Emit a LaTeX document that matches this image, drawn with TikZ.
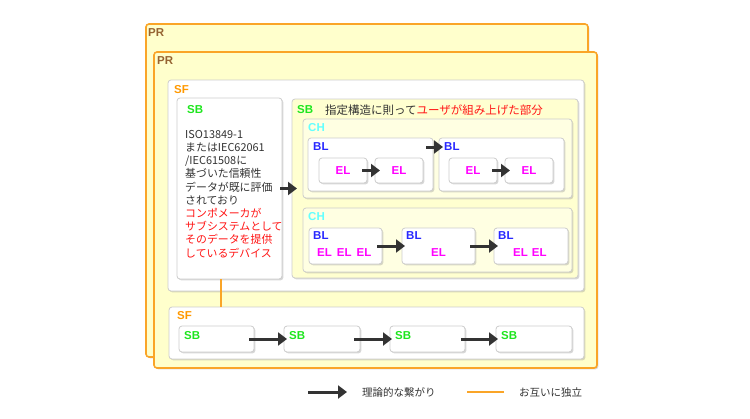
\documentclass[tikz,border=0pt]{standalone}
\usepackage{fontspec}
\setmainfont{Liberation Sans}
\newfontfamily\jp{Noto Sans CJK JP}
\usetikzlibrary{positioning,shadows,arrows.meta}

\definecolor{prorange}{RGB}{250,165,40}
\definecolor{pryellow}{RGB}{255,255,204}
\definecolor{sbyellow}{RGB}{255,255,208}
\definecolor{chyellow}{RGB}{255,255,226}
\definecolor{boxgray}{RGB}{204,204,204}
\definecolor{textgray}{RGB}{51,51,51}
\definecolor{prbrown}{RGB}{150,100,50}
\definecolor{sforange}{RGB}{255,153,0}
\definecolor{sbgreen}{RGB}{30,230,30}
\definecolor{chcyan}{RGB}{100,255,255}
\definecolor{blblue}{RGB}{40,40,255}
\definecolor{elmagenta}{RGB}{255,0,255}
\definecolor{jpred}{RGB}{255,20,20}

\tikzset{
  box/.style={draw=boxgray, line width=0.8pt, rounded corners=3pt, fill=white,
    anchor=north west, inner sep=0pt, outer sep=0pt,
    drop shadow={shadow xshift=1.4pt, shadow yshift=-1.4pt, opacity=0.3}},
  prbox/.style={box, draw=prorange, line width=1.6pt, fill=pryellow},
  ybox/.style={box, fill=sbyellow},
  chbox/.style={box, fill=chyellow},
  tag/.style={anchor=west, inner sep=0pt, font=\fontsize{11.5}{11.5}\selectfont\bfseries},
  prtag/.style={tag, text=prbrown},
  sftag/.style={tag, text=sforange},
  sbtag/.style={tag, text=sbgreen},
  chtag/.style={tag, text=chcyan},
  bltag/.style={tag, text=blblue},
  eltag/.style={tag, text=elmagenta},
  elbox/.style={box, text=elmagenta, font=\fontsize{11.5}{11.5}\selectfont\bfseries,
    minimum width=48pt, minimum height=25pt},
  jptext/.style={inner sep=0pt, text=textgray, font=\jp\fontsize{11}{11}\selectfont},
  flow/.style={draw=textgray, line width=3pt, -{Triangle[length=9pt,width=13pt]}},
  indep/.style={draw=prorange, line width=2pt},
}

\begin{document}
\begin{tikzpicture}[x=1pt,y=-1pt]
\useasboundingbox[fill=white] (0,0) rectangle (750,418);

% product frames
\node [prbox, minimum width=442pt, minimum height=333pt] (pr1) at (146,24) {};
\node [prtag] (pr1t) at ([shift={(2pt,-9pt)}]pr1.north west) {PR};
\node [prbox, minimum width=443pt, minimum height=316pt] (pr2) at (154,52) {};
\node [prtag] (pr2t) at ([shift={(3pt,-9pt)}]pr2.north west) {PR};

% upper subsystem frame
\node [box, minimum width=416pt, minimum height=211pt] (sf1) at (168,80) {};
\node [sftag] (sf1t) at ([shift={(6pt,-10pt)}]sf1.north west) {SF};

\node [box, minimum width=105pt, minimum height=181pt] (sbl) at (177,98) {};
\node [sbtag] (sblt) at ([shift={(10pt,-12pt)}]sbl.north west) {SB};
\node [jptext, anchor=north west, align=left, font=\jp\fontsize{10.9}{13.2}\selectfont] (sbltext) at (185,130)
  {ISO13849-1\\またはIEC62061\\/IEC61508に\\基づいた信頼性\\データが既に評価\\されており\\
   \textcolor{jpred}{コンポメーカが}\\\textcolor{jpred}{サブシステムとして}\\
   \textcolor{jpred}{そのデータを提供}\\\textcolor{jpred}{しているデバイス}};

\node [ybox, minimum width=286pt, minimum height=179pt] (sbr) at (292,99) {};
\node [sbtag] (sbrt) at ([shift={(5pt,-11pt)}]sbr.north west) {SB};
\node [jptext, anchor=west, font=\jp\fontsize{11.5}{11.5}\selectfont] (sbrcap) at (325,110) {指定構造に則って\textcolor{jpred}{ユーザが組み上げた部分}};

% first channel
\node [chbox, minimum width=269pt, minimum height=79pt] (ch1) at (303,119) {};
\node [chtag] (ch1t) at ([shift={(5pt,-9pt)}]ch1.north west) {CH};
\node [box, minimum width=125pt, minimum height=53pt] (bl1) at (308,138) {};
\node [bltag] (bl1t) at ([shift={(5pt,-9pt)}]bl1.north west) {BL};
\node [elbox] (el1) at (319,158) {EL};
\node [elbox] (el2) at (375,158) {EL};
\node [box, minimum width=125pt, minimum height=53pt] (bl2) at (439,138) {};
\node [bltag] (bl2t) at ([shift={(5pt,-9pt)}]bl2.north west) {BL};
\node [elbox] (el3) at (449,158) {EL};
\node [elbox] (el4) at (505,158) {EL};

\draw [flow] ([xshift=-5pt]el1.east) -- ([xshift=5pt]el2.west);
\draw [flow] ([xshift=-5pt]el3.east) -- ([xshift=5pt]el4.west);
\draw [flow] ([shift={(-7pt,-9pt)}]bl1.north east) -- ([shift={(4pt,-9pt)}]bl2.north west);

% second channel
\node [chbox, minimum width=269pt, minimum height=64pt] (ch2) at (303,208) {};
\node [chtag] (ch2t) at ([shift={(5pt,-9pt)}]ch2.north west) {CH};
\node [box, minimum width=73pt, minimum height=36pt] (bl3) at (309,228) {};
\node [bltag] (bl3t) at ([shift={(4pt,-8pt)}]bl3.north west) {BL};
\node [eltag] (bl3e) at ([shift={(8pt,-25pt)}]bl3.north west) {EL\hspace{5pt}EL\hspace{5pt}EL};
\node [box, minimum width=73pt, minimum height=36pt] (bl4) at (402,228) {};
\node [bltag] (bl4t) at ([shift={(4pt,-8pt)}]bl4.north west) {BL};
\node [eltag, anchor=center] (bl4e) at ([yshift=-25pt]bl4.north) {EL};
\node [box, minimum width=74pt, minimum height=36pt] (bl5) at (494,228) {};
\node [bltag] (bl5t) at ([shift={(4pt,-8pt)}]bl5.north west) {BL};
\node [eltag] (bl5e) at ([shift={(19pt,-25pt)}]bl5.north west) {EL\hspace{4pt}EL};

\draw [flow] ([xshift=-5pt]bl3.east) -- ([xshift=3pt]bl4.west);
\draw [flow] ([xshift=-5pt]bl4.east) -- ([xshift=4pt]bl5.west);

\draw [flow] ([xshift=-2pt]sbl.east) -- ([xshift=5pt]sbl.east -| sbr.west);

% lower subsystem frame
\node [box, minimum width=415pt, minimum height=52pt] (sf2) at (169,307) {};
\node [sftag] (sf2t) at ([shift={(8pt,-9pt)}]sf2.north west) {SF};
\node [box, minimum width=75pt, minimum height=26pt] (sb1) at (179,326) {};
\node [box, minimum width=76pt, minimum height=26pt] (sb2) at (284,326) {};
\node [box, minimum width=75pt, minimum height=26pt] (sb3) at (390,326) {};
\node [box, minimum width=76pt, minimum height=26pt] (sb4) at (496,326) {};
\foreach \s in {sb1,sb2,sb3,sb4}
  \node [sbtag] (\s t) at ([shift={(5pt,-10pt)}]\s.north west) {SB};

\draw [flow] ([xshift=-5pt]sb1.east) -- ([xshift=3pt]sb2.west);
\draw [flow] ([xshift=-6pt]sb2.east) -- ([xshift=2pt]sb3.west);
\draw [flow] ([xshift=-4pt]sb3.east) -- ([xshift=2pt]sb4.west);

\draw [indep] ([xshift=-8.5pt]sbl.south) coordinate (o1) -- (o1 |- sf2.north);

% legend
\coordinate (lga) at (308,392);
\coordinate (lgb) at (347,392);
\draw [flow] (lga) -- (lgb);
\node [jptext, anchor=west, font=\jp\fontsize{10.5}{10.5}\selectfont] (lgat) at (362,392) {理論的な繋がり};
\coordinate (lgc) at (467,392);
\coordinate (lgd) at (504,392);
\draw [indep] (lgc) -- (lgd);
\node [jptext, anchor=west, font=\jp\fontsize{10.5}{10.5}\selectfont] (lgct) at (519,392) {お互いに独立};
\end{tikzpicture}
\end{document}
